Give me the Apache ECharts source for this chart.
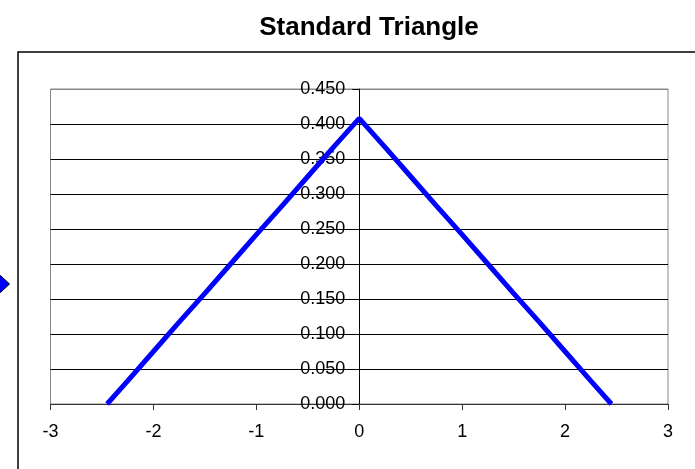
<!DOCTYPE html>
<html>
<head>
<meta charset="utf-8">
<script src="https://cdn.jsdelivr.net/npm/echarts@6/dist/echarts.min.js"></script>
<style>
html,body{margin:0;padding:0;background:#fff;}
#chart{width:695px;height:469px;}
</style>
</head>
<body>
<div id="chart"></div>
<script>
var titleText = 'Standard Triangle';
var seriesName = 'Series1';
var xValues = [-2.45, -2.25, -2.0, -1.75, -1.5, -1.25, -1.0, -0.75, -0.5, -0.25, 0.0, 0.25, 0.5, 0.75, 1.0, 1.25, 1.5, 1.75, 2.0, 2.25, 2.45];
var yValues = [0.000, 0.033, 0.075, 0.117, 0.158, 0.200, 0.242, 0.283, 0.325, 0.367, 0.408, 0.367, 0.325, 0.283, 0.242, 0.200, 0.158, 0.117, 0.075, 0.033, 0.000];
var xMin = -3, xMax = 3, xStep = 1;
var yMin = 0, yMax = 0.45, yStep = 0.05;

var pts = xValues.map(function (x, i) { return [x, yValues[i]]; });
var font = 'Liberation Sans, Arial, sans-serif';

var W = 695;
var gridLeft = 50.5, gridRight = 27;
var plotW = W - gridLeft - gridRight;
// y axis crosses the x axis at value 0
var yAxisShift = plotW * (0 - xMin) / (xMax - xMin);
var nLines = Math.round((yMax - yMin) / yStep) + 1;
var splitColors = [];
for (var k = 0; k < nLines; k++) splitColors.push(k === nLines - 1 ? '#888' : '#000');

var chart = echarts.init(document.getElementById('chart'));
chart.setOption({
  backgroundColor: '#fff',
  animation: false,
  title: {
    text: titleText,
    left: 364,
    textAlign: 'center',
    top: 10,
    textStyle: { fontFamily: font, fontWeight: 'bold', fontSize: 26, color: '#000' }
  },
  legend: {
    left: -9,
    top: 275,
    padding: 0,
    itemWidth: 18,
    itemHeight: 17,
    formatter: function () { return ''; },
    data: [{ name: seriesName, icon: 'diamond', itemStyle: { color: '#0000ff', borderColor: '#000', borderWidth: 1 } }]
  },
  graphic: [{
    type: 'rect',
    shape: { x: 18, y: 52, width: 720, height: 460 },
    style: { fill: 'none', stroke: '#000', lineWidth: 1.5 },
    silent: true,
    z: -1
  }],
  grid: {
    left: gridLeft, right: gridRight, top: 89, bottom: 65,
    containLabel: false,
    outerBoundsMode: 'none',
    show: true, borderColor: '#888', borderWidth: 1, backgroundColor: 'transparent'
  },
  xAxis: {
    type: 'value', min: xMin, max: xMax, interval: xStep,
    axisLine: { onZero: true, lineStyle: { color: '#333', width: 1 } },
    axisTick: { show: true, inside: false, length: 6, lineStyle: { color: '#333' } },
    axisLabel: { margin: 19, fontFamily: font, fontSize: 18, color: '#000' },
    splitLine: { show: false }
  },
  yAxis: {
    type: 'value', min: yMin, max: yMax, interval: yStep,
    position: 'left',
    offset: -yAxisShift,
    axisLine: { show: true, onZero: false, lineStyle: { color: '#000', width: 1 } },
    axisTick: { show: true, inside: false, length: 7, lineStyle: { color: '#000' } },
    axisLabel: { margin: 14, fontFamily: font, fontSize: 18, color: '#000',
      formatter: function (v) { return v.toFixed(3); } },
    splitLine: { show: true, lineStyle: { color: splitColors, width: 1 } }
  },
  series: [{
    name: seriesName,
    type: 'line',
    data: pts,
    showSymbol: false,
    symbol: 'none',
    lineStyle: { color: '#0000ff', width: 5 },
    itemStyle: { color: '#0000ff' },
    z: 3
  }]
});
</script>
</body>
</html>
